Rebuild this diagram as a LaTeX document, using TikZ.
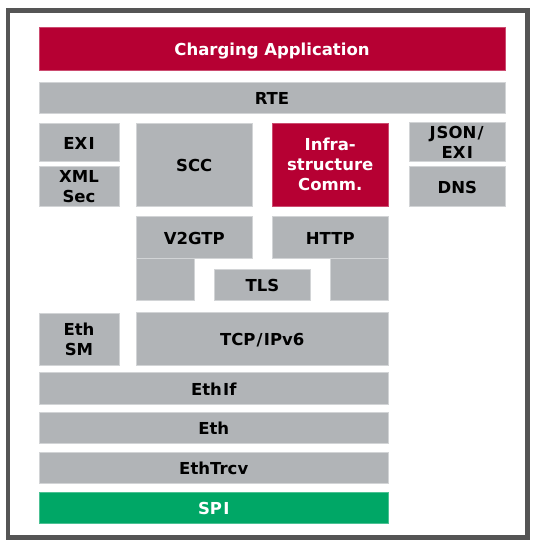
\documentclass[tikz,border=0pt]{standalone}
\usepackage{fontspec}
\setmainfont{DejaVu Sans}
\definecolor{boxgray}{HTML}{B1B4B7}
\definecolor{boxedge}{HTML}{D2D4D6}
\definecolor{appred}{HTML}{B60033}
\definecolor{spigreen}{HTML}{00A766}
\definecolor{framegray}{HTML}{555555}
\newcommand{\gI}{\kern1.2pt I}
\newcommand{\gS}{\kern1.2pt/\kern1.2pt}
\tikzset{
  blk/.style={rectangle, draw=boxedge, line width=0.8pt, fill=boxgray, inner sep=0pt,
    font=\fontsize{16.5}{20}\selectfont\bfseries, text=black, align=center},
  one/.style={blk, text height=14pt, text depth=0pt},
  redblk/.style={fill=appred, draw=appred!70!white, text=white},
  greenblk/.style={fill=spigreen, draw=spigreen!70!white, text=white},
  sz/.style 2 args={minimum width=#1, minimum height=#2},
}
\begin{document}
\begin{tikzpicture}[x=1pt,y=-1pt]
\useasboundingbox (0,0) rectangle (538,546);
\draw[framegray, line width=4.6pt] (8,10.7) rectangle (527.6,537.5);
\node[one, redblk, sz={466}{43.5}] (app) at (272,48.75) {Charging Application};
\node[one, sz={466}{31}] (rte) at (272,97.5) {RTE};
\node[one, sz={80}{38.5}] (exi) at (79,142.25) {EX\gI};
\node[blk, sz={80}{40}] (xml) at (79,186.5) {XML\\Sec};
\node[one, sz={116.5}{83.5}] (scc) at (194.25,164.75) {SCC};
\node[blk, redblk, sz={116.5}{83.5}] (infra) at (330.25,164.75) {Infra-\\structure\\Comm.};
\node[blk, sz={95.5}{39}] (json) at (457.25,142) {J\kern1pt SON\gS\\EX\gI};
\node[one, sz={95.5}{40}] (dns) at (457.25,186.5) {DNS};
\node[one, sz={116.5}{41.6}] (v2gtp) at (194.25,237.5) {V2GTP};
\node[one, sz={116.5}{41.6}] (http) at (330.25,237.5) {HTTP};
\node[one, sz={58.3}{41.7}] (tlsl) at (165.15,279.15) {};
\node[one, sz={57.8}{41.7}] (tlsr) at (359.6,279.15) {};
\node[one, sz={96.7}{31}] (tls) at (262.35,284.5) {TLS};
\node[one, sz={252.5}{52.3}] (tcp) at (262.25,338.85) {TCP\gS\kern-1.2pt\gI Pv6};
\node[blk, sz={80}{52}] (ethsm) at (79,339) {Eth\\SM};
\node[one, sz={349.5}{31.3}] (ethif) at (213.75,388.35) {Eth\gI f};
\node[one, sz={349.5}{31}] (eth) at (213.75,427.8) {Eth};
\node[one, sz={349.5}{31}] (ethtrcv) at (213.75,467.8) {EthTrcv};
\node[one, greenblk, sz={349.5}{31.3}] (spi) at (213.75,507.65) {SP\gI};
\end{tikzpicture}
\end{document}
